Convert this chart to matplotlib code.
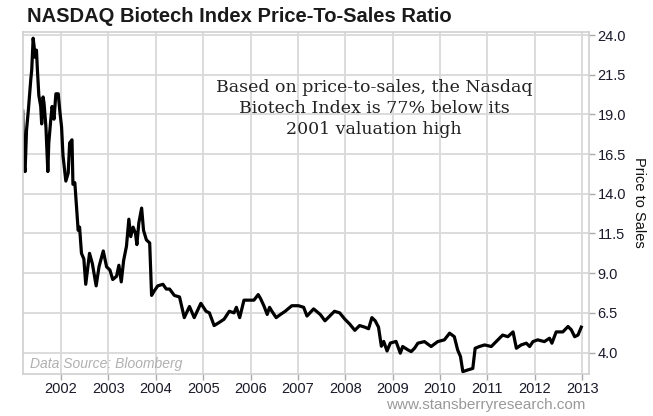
import numpy as np
import matplotlib
matplotlib.use("Agg")
import matplotlib.pyplot as plt

# price-to-sales ratio (decimal year, value)
years = [
    2001.19, 2001.21, 2001.24, 2001.27, 2001.31, 2001.36, 2001.38, 2001.41, 2001.43, 2001.45,
    2001.48, 2001.50, 2001.53, 2001.57, 2001.59, 2001.62, 2001.64, 2001.68, 2001.72, 2001.74,
    2001.78, 2001.81, 2001.85, 2001.89, 2001.94, 2001.97, 2002.01, 2002.04, 2002.10, 2002.15,
    2002.18, 2002.23, 2002.25, 2002.29, 2002.34, 2002.36, 2002.39, 2002.43, 2002.48, 2002.52,
    2002.60, 2002.66, 2002.74, 2002.80, 2002.89, 2002.96, 2003.03, 2003.09, 2003.17, 2003.22,
    2003.27, 2003.32, 2003.38, 2003.43, 2003.47, 2003.52, 2003.57, 2003.60, 2003.64, 2003.70,
    2003.74, 2003.80, 2003.87, 2003.91, 2003.97, 2004.04, 2004.15, 2004.22, 2004.29, 2004.39,
    2004.50, 2004.60, 2004.71, 2004.81, 2004.95, 2005.06, 2005.13, 2005.23, 2005.34, 2005.44,
    2005.55, 2005.65, 2005.70, 2005.77, 2005.86, 2005.97, 2006.07, 2006.16, 2006.21, 2006.28,
    2006.35, 2006.40, 2006.45, 2006.54, 2006.63, 2006.73, 2006.87, 2007.01, 2007.12, 2007.19,
    2007.33, 2007.47, 2007.57, 2007.67, 2007.77, 2007.88, 2007.99, 2008.09, 2008.20, 2008.30,
    2008.41, 2008.49, 2008.56, 2008.63, 2008.70, 2008.76, 2008.81, 2008.88, 2008.95, 2009.07,
    2009.16, 2009.21, 2009.32, 2009.39, 2009.46, 2009.53, 2009.67, 2009.81, 2009.95, 2010.09,
    2010.20, 2010.30, 2010.37, 2010.43, 2010.48, 2010.58, 2010.69, 2010.74, 2010.83, 2010.94,
    2011.08, 2011.22, 2011.32, 2011.43, 2011.54, 2011.61, 2011.71, 2011.82, 2011.89, 2011.96,
    2012.06, 2012.20, 2012.31, 2012.36, 2012.45, 2012.59, 2012.70, 2012.77, 2012.84, 2012.91,
    2012.98,
]
ps_ratio = [
    19.2, 16.0, 15.4, 18.0, 19.3, 21.2, 21.8, 23.8, 23.3, 22.6,
    23.05, 21.8, 20.2, 19.5, 18.4, 20.1, 19.7, 18.2, 15.4, 17.2,
    18.6, 19.5, 18.7, 20.3, 20.3, 19.3, 18.2, 16.4, 14.8, 15.3,
    17.2, 17.4, 14.6, 14.7, 12.6, 11.7, 11.9, 10.25, 9.9, 8.3,
    10.25, 9.6, 8.2, 9.4, 10.4, 9.4, 9.2, 8.6, 8.8, 9.5,
    8.45, 9.8, 10.7, 12.4, 11.3, 11.9, 11.5, 10.8, 12.15, 13.1,
    11.7, 11.1, 10.9, 7.6, 7.9, 8.2, 8.3, 8.0, 8.0, 7.6,
    7.5, 6.2, 6.9, 6.2, 7.1, 6.6, 6.5, 5.7, 5.9, 6.1,
    6.6, 6.5, 6.85, 6.2, 7.3, 7.3, 7.3, 7.65, 7.4, 6.95,
    6.4, 6.85, 6.6, 6.2, 6.4, 6.6, 6.95, 6.95, 6.85, 6.3,
    6.75, 6.4, 6.0, 6.3, 6.6, 6.5, 6.1, 5.8, 5.4, 5.7,
    5.6, 5.5, 6.2, 6.0, 5.6, 4.4, 4.7, 4.1, 4.6, 4.7,
    3.96, 4.38, 4.17, 4.06, 4.27, 4.59, 4.69, 4.38, 4.69, 4.8,
    5.22, 5.0, 4.17, 3.75, 2.8, 2.9, 3.0, 4.27, 4.38, 4.48,
    4.38, 4.8, 5.1, 5.0, 5.3, 4.27, 4.48, 4.59, 4.38, 4.69,
    4.8, 4.69, 4.9, 4.59, 5.3, 5.3, 5.64, 5.43, 5.0, 5.1,
    5.6,
]
year_ticks = list(range(2002, 2014))
y_ticks = [4.0, 6.5, 9.0, 11.5, 14.0, 16.5, 19.0, 21.5, 24.0]

plt.rcParams['font.family'] = ['Liberation Sans', 'DejaVu Sans']

fig = plt.figure(figsize=(6.53, 4.16), dpi=100)
ax = fig.add_axes([0.0348, 0.101, 0.8677, 0.8228])

ax.plot(years, ps_ratio, color='black', lw=2.3, solid_joinstyle='round')

ax.set_xlim(2001.19, 2013.15)
ax.set_ylim(2.65, 24.21)
ax.set_xticks(year_ticks)
ax.set_xticklabels([str(y) for y in year_ticks])
ax.set_yticks(y_ticks)
ax.set_yticklabels([f'{v:.1f}' for v in y_ticks])
ax.yaxis.tick_right()
ax.yaxis.set_label_position('right')
ax.tick_params(axis='both', colors='#aaaaaa', labelcolor='#1a1a2a', labelsize=10.5,
               length=4, width=1, direction='out', pad=2)
ax.grid(True, color='#d9d9d9', lw=1.3)
ax.set_axisbelow(True)
for s in ax.spines.values():
    s.set_color('#cfcfcf')
    s.set_linewidth(1.2)

ax.set_ylabel('Price to Sales', rotation=270, fontsize=10.5, color='#111111', labelpad=14)

fig.text(0.041, 0.961, 'NASDAQ Biotech Index Price-To-Sales Ratio',
         fontweight='bold', fontsize=14.5, color='#1a1a1a', va='center', ha='left')

ax.text(0.62, 0.776,
        'Based on price-to-sales, the Nasdaq\nBiotech Index is 77% below its\n2001 valuation high',
        transform=ax.transAxes, ha='center', va='center', family='DejaVu Serif',
        fontsize=12.5, color='#222222', linespacing=1.3)

ax.text(0.012, 0.03, 'Data Source: Bloomberg', transform=ax.transAxes,
        fontstyle='italic', fontsize=10, color='#b0b0b0', ha='left', va='center')

fig.text(0.744, 0.026, 'www.stansberryresearch.com', fontsize=11, color='#999999',
         ha='center', va='center')

fig.savefig('out.png', dpi=100)
